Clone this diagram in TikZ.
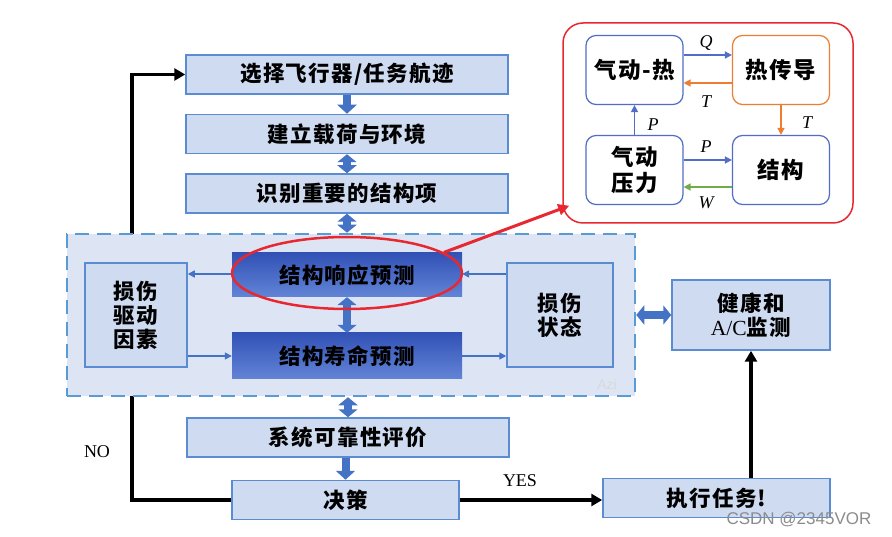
\documentclass[tikz,border=0pt]{standalone}
\usepackage{fontspec}
\setmainfont{Liberation Serif}
\setsansfont{Liberation Sans}
\newfontfamily\cjk{Noto Sans CJK SC}[LetterSpace=6]
\usetikzlibrary{arrows.meta,shapes.geometric,calc,backgrounds}
\definecolor{boxfill}{RGB}{207,219,241}
\definecolor{contfill}{RGB}{221,229,244}
\definecolor{boxline}{RGB}{91,140,210}
\definecolor{arrblue}{RGB}{68,114,196}
\definecolor{dashblue}{RGB}{91,155,213}
\definecolor{darktop}{RGB}{50,82,182}
\definecolor{darkbot}{RGB}{98,132,214}
\definecolor{redc}{RGB}{232,40,48}
\definecolor{panblue}{RGB}{80,110,200}
\definecolor{panorange}{RGB}{237,125,49}
\definecolor{pangreen}{RGB}{112,173,71}
\begin{document}
\begin{tikzpicture}[x=1pt,y=-1pt,
  cjkfont/.style={font={\fontsize{21.5}{24}\selectfont\cjk\bfseries}},
  box/.style={draw=boxline, fill=boxfill, line width=1.5pt, inner sep=0pt, align=center, cjkfont},
  darkbox/.style={draw=none, top color=darktop, bottom color=darkbot, inner sep=0pt, align=center, cjkfont},
  pbox/.style={draw=panblue, fill=white, line width=1.2pt, rounded corners=10pt, inner sep=0pt, align=center, font={\fontsize{22.5}{26}\selectfont\cjk\bfseries}, minimum width=97pt, minimum height=69pt},
  blk/.style={draw=arrblue, line width=8pt, -{Triangle[width=19pt,length=9pt]}},
  blkd/.style={draw=arrblue, line width=8pt, {Triangle[width=19pt,length=8pt]}-{Triangle[width=19pt,length=8pt]}},
  thinarr/.style={draw=arrblue, line width=1.4pt, -{Triangle[width=7pt,length=7pt]}},
  blackarr/.style={draw=black, line width=3.5pt, -{Triangle[width=12pt,length=11pt]}},
  parr/.style={line width=1.4pt, -{Triangle[width=7pt,length=7pt]}},
  lab/.style={font={\fontsize{18}{18}\selectfont\itshape}, inner sep=0pt},
  txt/.style={font={\fontsize{18}{18}\selectfont}, inner sep=0pt}
]
\useasboundingbox (0,0) rectangle (892,537);

% main column
\node[box, minimum width=322pt, minimum height=39pt] (b1) at (347,74.5) {选择飞行器/任务航迹};
\node[box, minimum width=322pt, minimum height=39pt] (b2) at (347,134) {建立载荷与环境};
\node[box, minimum width=322pt, minimum height=39pt] (b3) at (347,193.5) {识别重要的结构项};

% container
\node[draw=dashblue, fill=contfill, line width=2.5pt, dash pattern=on 14pt off 8pt, minimum width=568pt, minimum height=162pt, inner sep=0pt] (cont) at (351,315) {};
\node[font={\fontsize{14}{14}\selectfont\sffamily}, text=black!15, inner sep=0pt] (azi) at (607,384) {Azi};

\node[box, minimum width=102pt, minimum height=104pt] (drv) at (136,315) {损伤\\驱动\\因素};
\node[box, minimum width=106pt, minimum height=104pt] (state) at (560,315) {损伤\\状态};
\node[darkbox, minimum width=230pt, minimum height=44pt] (resp) at (347,275) {结构响应预测};
\node[darkbox, minimum width=230pt, minimum height=46pt] (life) at (347,356) {结构寿命预测};

\node[box, minimum width=158pt, minimum height=70pt] (health) at (751,315) {健康和\\{\rmfamily\mdseries A/C}监测};

\node[box, minimum width=322pt, minimum height=39pt] (sys) at (348,437.5) {系统可靠性评价};
\node[box, minimum width=227pt, minimum height=39pt] (dec) at (345.5,500) {决策};
\node[box, minimum width=227pt, minimum height=39pt] (exec) at (716.5,498) {执行任务!};

% block arrows
\draw[blk] (b1.south) -- (b2.north);
\draw[blkd] (b2.south) -- (b3.north);
\draw[blkd] (b3.south) -- (b3.south |- cont.north);
\draw[blkd] (resp.south) -- (life.north);
\draw[blkd] (sys.north |- cont.south) -- (sys.north);
\draw[blk] (sys.south -| dec.north) -- (dec.north);
\draw[blkd] (cont.east |- health.west) -- (health.west);

% thin arrows in container
\draw[thinarr] ($(resp.west)+(0,-1)$) -- ($(drv.east |- resp.west)+(0,-1)$);
\draw[thinarr] (drv.east |- life.west) -- (life.west);
\draw[thinarr] ($(state.west |- resp.east)+(0,-1)$) -- ($(resp.east)+(0,-1)$);
\draw[thinarr] (life.east) -- (state.west |- life.east);

% black loop
\coordinate (nocorner) at (132,500);
\begin{pgfonlayer}{background}
\fill[white] (0,0) rectangle (892,537);
\draw[blackarr] (dec.west) -- (nocorner) |- (b1.west);
\end{pgfonlayer}
\node[txt] (no) at (97,452) {NO};
\draw[blackarr] (dec.east) -- (dec.east -| exec.west);
\node[txt] (yes) at (520,481) {YES};
\draw[blackarr] (health.south |- exec.north) -- (health.south);

% red ellipse
\node[ellipse, draw=redc, line width=2.5pt, minimum width=230pt, minimum height=72pt, inner sep=0pt] (ell) at (347,273) {};

% right panel
\node[draw=redc, fill=white, line width=1.5pt, rounded corners=20pt, minimum width=290pt, minimum height=200pt, inner sep=0pt] (panel) at (708,123) {};
\coordinate (ptip) at ($(panel.south west)+(7,-18)$);
\draw[redc, line width=3pt, -{Triangle[width=11pt,length=11pt]}] (ell.12) -- (ptip);

\node[pbox] (ah) at (634.5,70) {气动-热};
\node[pbox, draw=panorange] (ht) at (781,70) {热传导};
\node[pbox] (ap) at (634.5,170) {气动\\压力};
\node[pbox] (st) at (781,170) {结构};

\draw[parr, panblue] ($(ah.east)+(0,-15)$) -- ($(ht.west)+(0,-15)$);
\draw[parr, panorange] ($(ht.west)+(0,13)$) -- ($(ah.east)+(0,13)$);
\draw[parr, panorange] (ht.south) -- (st.north);
\draw[parr, panblue] (ap.north) -- (ah.south);
\draw[parr, panblue] ($(ap.east)+(0,-10)$) -- ($(st.west)+(0,-10)$);
\draw[parr, pangreen] ($(st.west)+(0,17)$) -- ($(ap.east)+(0,17)$);

\node[lab] (lq) at (706,43) {Q};
\node[lab] (lt1) at (706,102) {T};
\node[lab] (lt2) at (807,123) {T};
\node[lab] (lp1) at (653,125) {P};
\node[lab] (lp2) at (706,147) {P};
\node[lab] (lw) at (706,203) {W};

\node[font={\fontsize{17}{17}\selectfont\sffamily}, text=black!45, inner sep=0pt] (wm) at (799,520) {CSDN @2345VOR};
\end{tikzpicture}
\end{document}
